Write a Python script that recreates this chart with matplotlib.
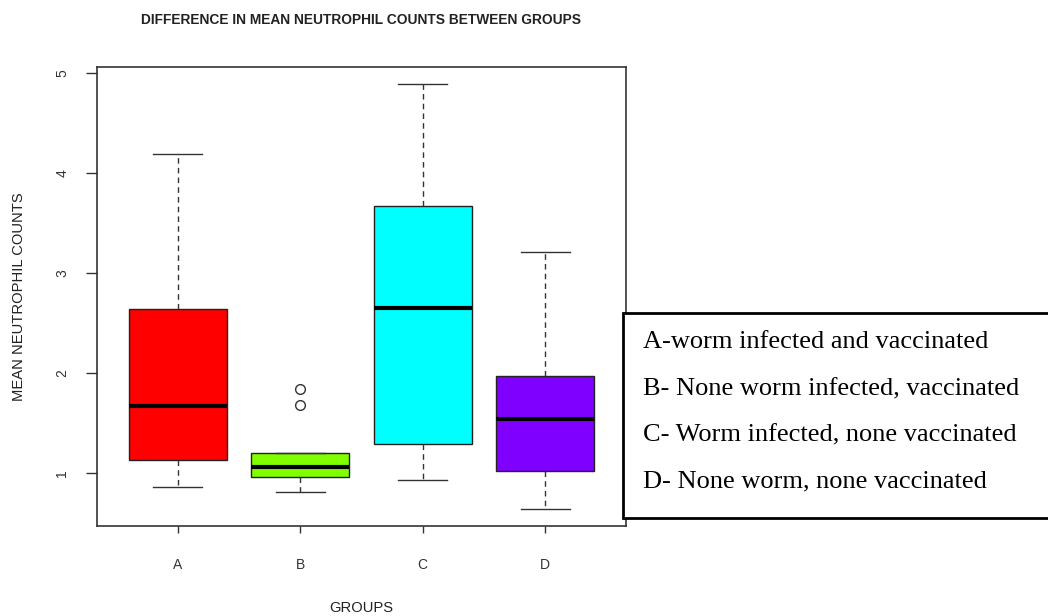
import matplotlib
matplotlib.use('Agg')
import matplotlib.pyplot as plt
from matplotlib.patches import Rectangle

# values
groups = ['A', 'B', 'C', 'D']
whislo = [0.86, 0.81, 0.93, 0.64]
q1 = [1.13, 0.96, 1.29, 1.02]
med = [1.67, 1.06, 2.65, 1.54]
q3 = [2.64, 1.20, 3.67, 1.97]
whishi = [4.19, 1.20, 4.89, 3.21]
fliers = [[], [1.84, 1.68], [], []]
colors = ['#ff0000', '#80ff00', '#00ffff', '#8000ff']
legend_lines = ['A-worm infected and vaccinated',
                'B- None worm infected, vaccinated',
                'C- Worm infected, none vaccinated',
                'D- None worm, none vaccinated']

stats = []
for i in range(len(groups)):
    stats.append({'label': groups[i], 'whislo': whislo[i], 'q1': q1[i], 'med': med[i],
                  'q3': q3[i], 'whishi': whishi[i], 'fliers': fliers[i]})

fig = plt.figure(figsize=(10.48, 6.16), dpi=100)
ax = fig.add_axes([97/1048, 1 - 526/616, 529/1048, 459/616])

bp = ax.bxp(stats, positions=range(1, 5), widths=0.8, capwidths=0.4, patch_artist=True,
            boxprops=dict(edgecolor='#222222', linewidth=1),
            whiskerprops=dict(color='#333333', linewidth=1, linestyle=(0, (4, 3))),
            capprops=dict(color='#333333', linewidth=1),
            medianprops=dict(color='black', linewidth=3, solid_capstyle='butt'),
            flierprops=dict(marker='o', markerfacecolor='none', markeredgecolor='#333333',
                            markersize=7, markeredgewidth=1))
for patch, c in zip(bp['boxes'], colors):
    patch.set_facecolor(c)

ax.set_xlim(0.34, 4.66)
ax.set_ylim(0.473, 5.063)
ax.set_yticks([1, 2, 3, 4, 5])
ax.set_yticklabels(['1', '2', '3', '4', '5'], rotation=90, va='center', family='Liberation Sans')
ax.set_xticklabels(groups, family='Liberation Sans')
ax.tick_params(axis='y', direction='out', length=8, width=1, pad=12, labelsize=10, colors='#333333')
ax.tick_params(axis='x', direction='out', length=5, width=1, pad=18, labelsize=10, colors='#333333')
for s in ax.spines.values():
    s.set_color('#333333')
    s.set_linewidth(1.2)

fig.text(361/1048, 1 - 20/616, 'DIFFERENCE IN MEAN NEUTROPHIL COUNTS BETWEEN GROUPS',
         ha='center', va='center', fontsize=9.9, fontweight='bold',
         family='Liberation Sans', color='#222222')
fig.text(19/1048, 1 - 297/616, 'MEAN NEUTROPHIL COUNTS', rotation=90, ha='center', va='center',
         fontsize=10.6, family='Liberation Sans', color='#222222')
fig.text(361/1048, 1 - 608/616, 'GROUPS', ha='center', va='center',
         fontsize=10.6, family='Liberation Sans', color='#222222')

# legend box drawn over the right edge of the plot
fig.patches.append(Rectangle((622.7/1048, 1 - 518.3/616), 440/1048, 205/616,
                             transform=fig.transFigure, facecolor='white',
                             edgecolor='black', linewidth=2, zorder=5))
baselines = [348, 395, 441.5, 487]
for txt, yb in zip(legend_lines, baselines):
    fig.text(642.7/1048, 1 - yb/616, txt, ha='left', va='baseline', fontsize=19,
             family='Liberation Serif', color='black', zorder=6)

fig.savefig('out.png', dpi=100)
